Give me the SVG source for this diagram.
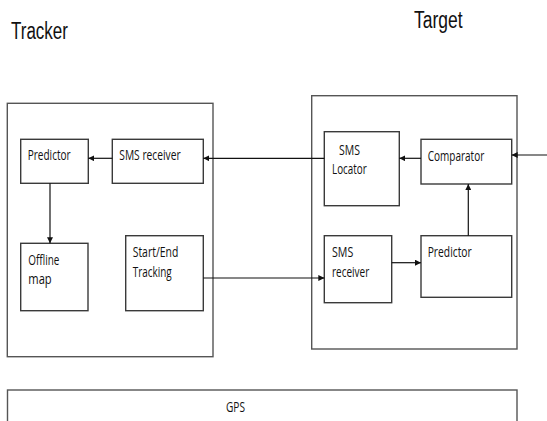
<svg xmlns="http://www.w3.org/2000/svg" width="547" height="421" viewBox="0 0 547 421">
<style>
.box{fill:#fff;stroke:#3a3a3a;stroke-width:1.4}
.outer{fill:#fff;stroke:#555;stroke-width:1.4}
.lbl{font-family:"Open Sans","Noto Sans",sans-serif;font-size:15px;fill:#111}
.title{font-family:"Liberation Sans",Arial,sans-serif;font-size:23px;fill:#111}
.conn{stroke:#111;stroke-width:1.2;fill:none}
</style>
<defs>
<marker id="ah" viewBox="0 0 10 10" refX="10" refY="5" markerWidth="6" markerHeight="6" markerUnits="userSpaceOnUse" orient="auto">
<path d="M0,0 L10,5 L0,10 z" fill="#111"/>
</marker>
</defs>
<rect width="547" height="421" fill="#fff"/>
<text class="title" x="11" y="39" textLength="57" lengthAdjust="spacingAndGlyphs">Tracker</text>
<text class="title" x="414" y="27.7" textLength="48.5" lengthAdjust="spacingAndGlyphs">Target</text>

<g id="tracker">
<rect class="outer" x="7.3" y="103.3" width="205.7" height="253.4"/>
</g>
<g id="target">
<rect class="outer" x="311.7" y="95.7" width="205.3" height="253.3"/>
</g>
<g id="gps">
<rect class="outer" x="7.5" y="390" width="509.5" height="40"/>
<text class="lbl" x="226" y="411.5" textLength="19" lengthAdjust="spacingAndGlyphs">GPS</text>
</g>

<g id="tr-predictor">
<rect class="box" x="20.7" y="139.3" width="67.6" height="44"/>
<text class="lbl" x="27.7" y="160" textLength="43" lengthAdjust="spacingAndGlyphs">Predictor</text>
</g>
<g id="tr-sms-receiver">
<rect class="box" x="112.3" y="139.3" width="91" height="44"/>
<text class="lbl" x="119.3" y="160" textLength="61.3" lengthAdjust="spacingAndGlyphs">SMS receiver</text>
</g>
<g id="tr-offline-map">
<rect class="box" x="20.7" y="243.3" width="67.3" height="67.4"/>
<text class="lbl" x="28.3" y="265" textLength="31" lengthAdjust="spacingAndGlyphs">Offline</text>
<text class="lbl" x="28.3" y="284.3" textLength="23.4" lengthAdjust="spacingAndGlyphs">map</text>
</g>
<g id="tr-start-end">
<rect class="box" x="125.7" y="235.7" width="77.6" height="75"/>
<text class="lbl" x="132.7" y="257.3" textLength="45.6" lengthAdjust="spacingAndGlyphs">Start/End</text>
<text class="lbl" x="132.7" y="276.7" textLength="39" lengthAdjust="spacingAndGlyphs">Tracking</text>
</g>

<g id="tg-sms-locator">
<rect class="box" x="324.3" y="131.7" width="75" height="74"/>
<text class="lbl" x="339" y="155" textLength="21" lengthAdjust="spacingAndGlyphs">SMS</text>
<text class="lbl" x="332" y="174.3" textLength="34.7" lengthAdjust="spacingAndGlyphs">Locator</text>
</g>
<g id="tg-comparator">
<rect class="box" x="421" y="139.3" width="90.7" height="44.7"/>
<text class="lbl" x="427.7" y="161" textLength="56.6" lengthAdjust="spacingAndGlyphs">Comparator</text>
</g>
<g id="tg-sms-receiver">
<rect class="box" x="324.3" y="235.7" width="67.4" height="67"/>
<text class="lbl" x="332" y="256.7" textLength="21.3" lengthAdjust="spacingAndGlyphs">SMS</text>
<text class="lbl" x="332" y="276.7" textLength="37.3" lengthAdjust="spacingAndGlyphs">receiver</text>
</g>
<g id="tg-predictor">
<rect class="box" x="421" y="235.7" width="90.7" height="61.6"/>
<text class="lbl" x="427.7" y="256.7" textLength="44" lengthAdjust="spacingAndGlyphs">Predictor</text>
</g>

<g id="connectors">
<line class="conn" x1="324.3" y1="158.3" x2="203.3" y2="158.3" marker-end="url(#ah)"/>
<line class="conn" x1="112.3" y1="158.3" x2="88.3" y2="158.3" marker-end="url(#ah)"/>
<line class="conn" x1="50" y1="183.3" x2="50" y2="243.3" marker-end="url(#ah)"/>
<line class="conn" x1="203.3" y1="278" x2="324.3" y2="278" marker-end="url(#ah)"/>
<line class="conn" x1="391.7" y1="262.7" x2="421" y2="262.7" marker-end="url(#ah)"/>
<line class="conn" x1="468.3" y1="235.7" x2="468.3" y2="184" marker-end="url(#ah)"/>
<line class="conn" x1="421" y1="158.3" x2="399.3" y2="158.3" marker-end="url(#ah)"/>
<line class="conn" x1="547" y1="155" x2="511.7" y2="155" marker-end="url(#ah)"/>
</g>
</svg>
